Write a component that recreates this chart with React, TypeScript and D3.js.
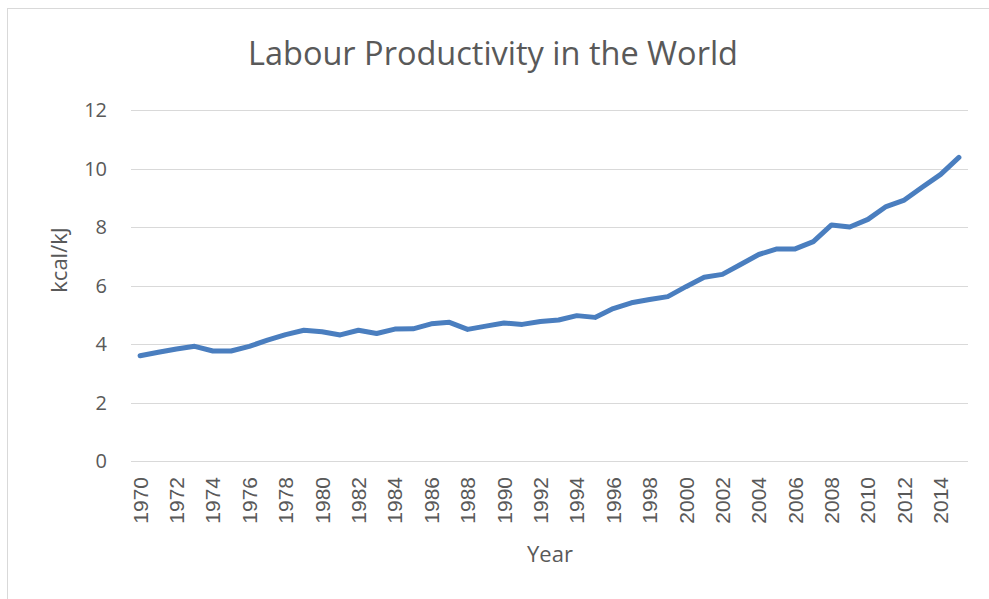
import React from "react";
import * as d3 from "d3";

// Labour productivity (kcal/kJ), world, 1970–2015
const years: number[] = d3.range(1970, 2016);
const productivity: number[] = [
  3.6, 3.72, 3.83, 3.92, 3.76, 3.76, 3.92, 4.13, 4.32, 4.47,
  4.42, 4.31, 4.47, 4.36, 4.51, 4.52, 4.69, 4.74, 4.5, 4.61,
  4.72, 4.67, 4.77, 4.82, 4.97, 4.91, 5.21, 5.41, 5.52, 5.62,
  5.96, 6.28, 6.38, 6.72, 7.06, 7.25, 7.25, 7.5, 8.07, 8.0,
  8.26, 8.7, 8.92, 9.37, 9.8, 10.38,
];
const yTicks: number[] = [0, 2, 4, 6, 8, 10, 12];
const titleText = "Labour Productivity in the World";
const xTitle = "Year";
const yTitle = "kcal/kJ";

const W = 989;
const H = 599;
const plot = { left: 131, right: 968, top: 110, bottom: 461 };

export default function App() {
  const x = d3
    .scaleBand<number>()
    .domain(years)
    .range([plot.left, plot.right]);
  const y = d3.scaleLinear().domain([0, 12]).range([plot.bottom, plot.top]);
  const cx = (yr: number) => (x(yr) ?? 0) + x.bandwidth() / 2;

  const line = d3
    .line<number>()
    .x((_, i) => cx(years[i]))
    .y((d) => y(d));

  const labelYears = years.filter((yr) => (yr - 1970) % 2 === 0);
  const grey = "#595959";
  const calibriLike = "'Open Sans', 'Noto Sans', sans-serif";

  return (
    <svg
      width={W}
      height={H}
      style={{ position: "absolute", left: 0, top: 0, background: "#fff" }}
    >
      <rect x={7.5} y={8.5} width={1000} height={620} fill="#fff" stroke="#d9d9d9" strokeWidth={1} />

      <text
        x={493}
        y={65}
        textAnchor="middle"
        fontFamily={calibriLike}
        fontSize={32}
        fill={grey}
        textLength={490}
        lengthAdjust="spacingAndGlyphs"
      >
        {titleText}
      </text>

      {yTicks.map((t) => (
        <g key={t}>
          <line
            x1={plot.left}
            x2={plot.right}
            y1={Math.round(y(t)) + 0.5}
            y2={Math.round(y(t)) + 0.5}
            stroke="#d9d9d9"
            strokeWidth={1.2}
          />
          <text
            x={107}
            y={y(t)}
            dy="0.36em"
            textAnchor="end"
            fontFamily={calibriLike}
            fontSize={20}
            fill={grey}
          >
            {t}
          </text>
        </g>
      ))}

      {labelYears.map((yr) => (
        <text
          key={yr}
          transform={`translate(${cx(yr)},477) rotate(-90)`}
          dy="0.36em"
          textAnchor="end"
          fontFamily="'Liberation Sans', Arial, sans-serif"
          fontSize={21}
          fill={grey}
        >
          {yr}
        </text>
      ))}

      <path
        d={line(productivity) ?? ""}
        fill="none"
        stroke="#4a7ebf"
        strokeWidth={5}
        strokeLinejoin="round"
        strokeLinecap="round"
      />

      <text
        x={550}
        y={562}
        textAnchor="middle"
        fontFamily={calibriLike}
        fontSize={22}
        fill={grey}
      >
        {xTitle}
      </text>
      <text
        transform={`translate(67,260) rotate(-90)`}
        textAnchor="middle"
        fontFamily={calibriLike}
        fontSize={22}
        fill={grey}
      >
        {yTitle}
      </text>
    </svg>
  );
}
